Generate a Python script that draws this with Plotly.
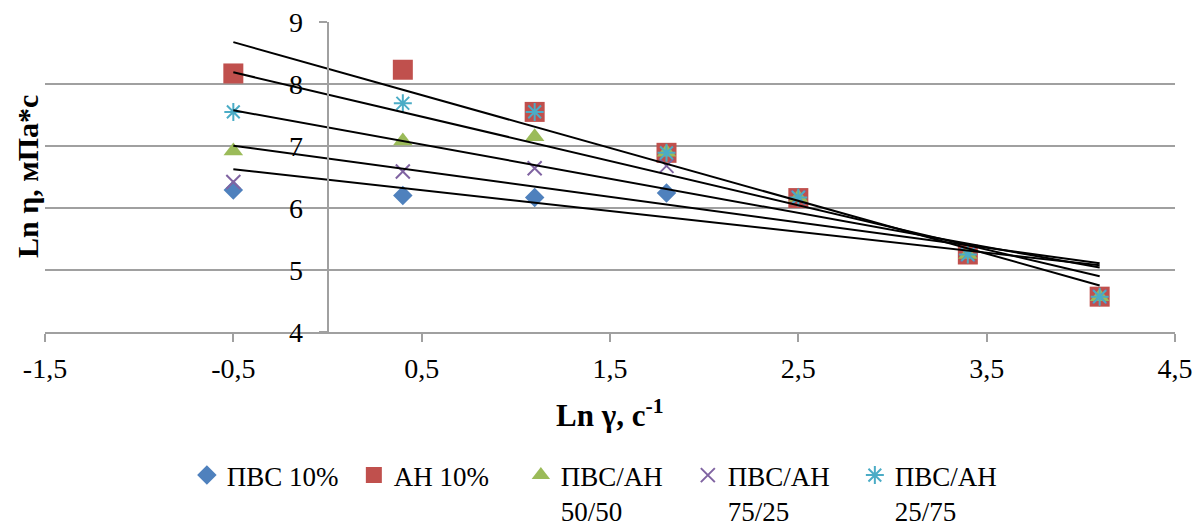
import numpy as np
import plotly.graph_objects as go

# ---- data ----
ln_gamma = [-0.5, 0.4, 1.1, 1.8, 2.5, 3.4, 4.1]
pvs10 = [6.29, 6.20, 6.17, 6.24, 6.17, 5.25, 4.57]
an10 = [8.17, 8.23, 7.55, 6.89, 6.16, 5.25, 4.57]
pvs_an_50_50 = [6.92, 7.08, 7.15, 6.90, 6.17, 5.25, 4.57]
pvs_an_75_25 = [6.42, 6.59, 6.64, 6.68, 6.17, 5.25, 4.57]
pvs_an_25_75 = [7.55, 7.69, 7.55, 6.89, 6.17, 5.25, 4.57]

series_names = ["ПВС 10%", "АН 10%", "ПВС/АН<br>50/50", "ПВС/АН<br>75/25", "ПВС/АН<br>25/75"]
x_tick_vals = [-1.5, -0.5, 0.5, 1.5, 2.5, 3.5, 4.5]
x_tick_text = ["-1,5", "-0,5", "0,5", "1,5", "2,5", "3,5", "4,5"]
y_tick_vals = [4, 5, 6, 7, 8, 9]

FONT = "Liberation Serif, Times New Roman, DejaVu Serif, serif"
GRID = "#a0a0a0"

styles = [
    dict(symbol="diamond", size=15, color="#4f81bd"),
    dict(symbol="square", size=20, color="#c0504d"),
    dict(symbol="triangle-up", size=17, color="#9bbb59"),
    dict(symbol="x-thin-open", size=14, color="#8064a2", line=dict(width=2, color="#8064a2")),
    dict(symbol="asterisk-open", size=15, color="#4bacc6", line=dict(width=2, color="#4bacc6")),
]
all_series = [pvs10, an10, pvs_an_50_50, pvs_an_75_25, pvs_an_25_75]

fig = go.Figure()
for name, ys, st in zip(series_names, all_series, styles):
    fig.add_trace(go.Scatter(x=ln_gamma, y=ys, mode="markers", name=name, marker=st))

# linear trend lines (computed from the data)
xs = np.array(ln_gamma)
for ys in all_series:
    k, b = np.polyfit(xs, np.array(ys), 1)
    xe = [xs.min(), xs.max()]
    fig.add_trace(go.Scatter(x=xe, y=[k * v + b for v in xe], mode="lines",
                             line=dict(color="black", width=2), showlegend=False,
                             hoverinfo="skip"))

fig.update_layout(
    width=1193, height=531,
    margin=dict(l=45, r=18, t=22, b=199, autoexpand=False),
    paper_bgcolor="white", plot_bgcolor="white",
    font=dict(family=FONT, size=28, color="black"),
    xaxis=dict(range=[-1.5, 4.5], tickvals=x_tick_vals, ticktext=x_tick_text,
               showgrid=False, zeroline=False, showline=True, linecolor=GRID, linewidth=2,
               ticks="outside", ticklen=8, tickcolor=GRID, tickwidth=2,
               ticklabelstandoff=2, automargin=False),
    yaxis=dict(range=[4, 9], tickvals=y_tick_vals, anchor="free", position=0.25,
               showgrid=True, gridcolor=GRID, gridwidth=2, zeroline=False,
               showline=True, linecolor=GRID, linewidth=2,
               ticks="outside", ticklen=8, tickcolor=GRID, tickwidth=2,
               ticklabelstandoff=10, automargin=False),
    legend=dict(orientation="h", x=0.495, xanchor="center", y=-0.384, yanchor="top",
                valign="top", font=dict(family=FONT, size=27),
                entrywidth=122, entrywidthmode="pixels", tracegroupgap=0),
    showlegend=True,
)

fig.add_annotation(text="<b>Ln γ, с<sup>-1</sup></b>", xref="paper", yref="paper",
                   x=0.5, y=0, xanchor="center", yanchor="middle", yshift=-81,
                   showarrow=False, font=dict(family=FONT, size=31))
fig.add_annotation(text="<b>Ln η, мПа*с</b>", xref="paper", yref="paper",
                   x=0, y=0.5, xanchor="center", yanchor="middle", xshift=-18,
                   textangle=-90, showarrow=False, font=dict(family=FONT, size=30))

fig.write_html("out.html")
